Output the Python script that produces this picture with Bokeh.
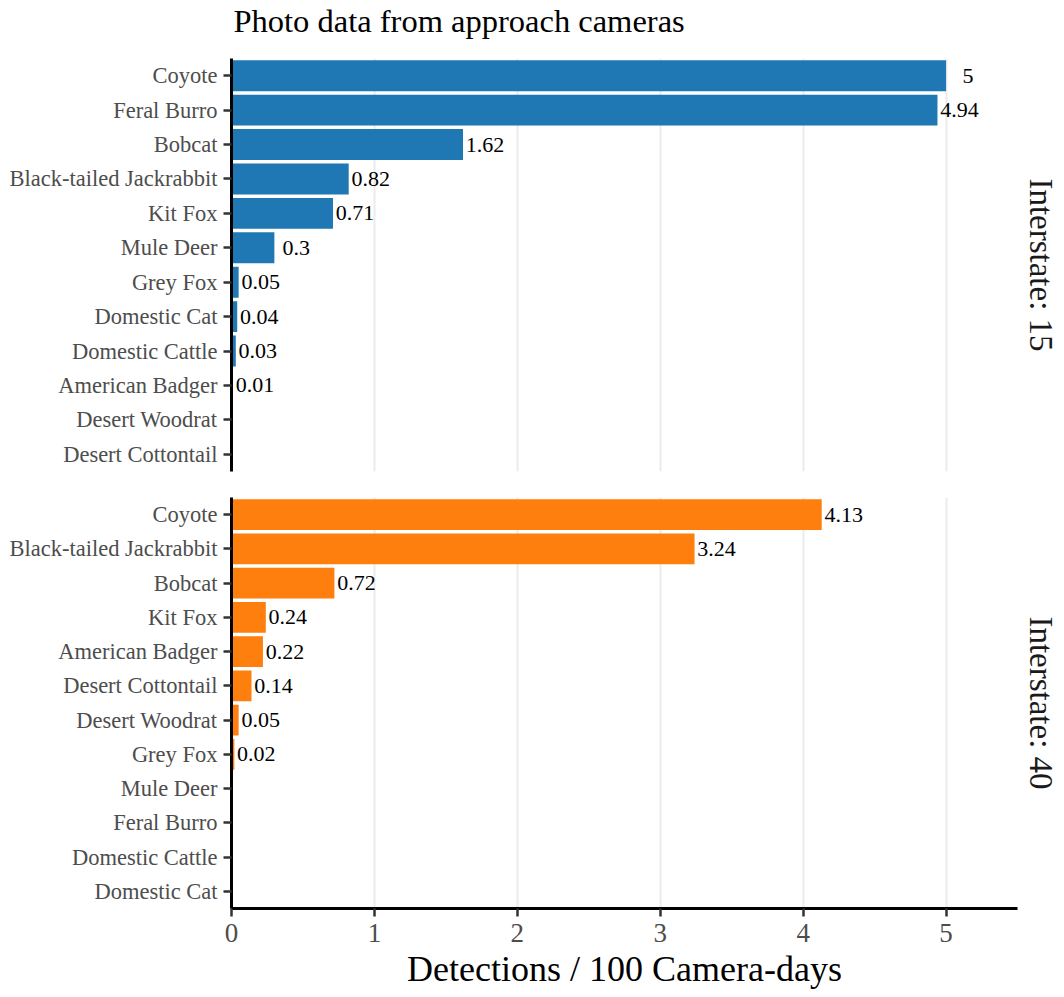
from bokeh.plotting import figure
from bokeh.layouts import column
from bokeh.models import Range1d, FactorRange, Title, ColumnDataSource, FixedTicker
from bokeh.core.properties import value
from bokeh.embed import file_html
from bokeh.resources import INLINE

# Detection rates (detections per 100 camera-days) by species and interstate
i15_species = ["Coyote", "Feral Burro", "Bobcat", "Black-tailed Jackrabbit", "Kit Fox",
               "Mule Deer", "Grey Fox", "Domestic Cat", "Domestic Cattle",
               "American Badger", "Desert Woodrat", "Desert Cottontail"]
i15_rate = [5, 4.94, 1.62, 0.82, 0.71, 0.3, 0.05, 0.04, 0.03, 0.01, 0, 0]

i40_species = ["Coyote", "Black-tailed Jackrabbit", "Bobcat", "Kit Fox", "American Badger",
               "Desert Cottontail", "Desert Woodrat", "Grey Fox", "Mule Deer",
               "Feral Burro", "Domestic Cattle", "Domestic Cat"]
i40_rate = [4.13, 3.24, 0.72, 0.24, 0.22, 0.14, 0.05, 0.02, 0, 0, 0, 0]

x_ticks = [0, 1, 2, 3, 4, 5]

chart_title = "Photo data from approach cameras"

FONT = "Liberation Serif"
x_range = Range1d(0, 5.5)

FRAME_W = 786
LEFT, RIGHT = 231, 47


def panel(species, rates, color, facet, frame_h, top_border, bottom_border, show_x):
    bars = ColumnDataSource(dict(species=species, rate=rates))
    nz = [i for i, r in enumerate(rates) if r > 0]
    labels = ColumnDataSource(dict(
        species=[species[i] for i in nz],
        rate=[rates[i] for i in nz],
        label=[f"{rates[i]:g}" for i in nz],
    ))
    p = figure(
        y_range=FactorRange(factors=list(reversed(species))),
        x_range=x_range,
        frame_width=FRAME_W, frame_height=frame_h,
        min_border_left=LEFT, min_border_right=RIGHT,
        min_border_top=top_border, min_border_bottom=bottom_border,
        output_backend="svg", toolbar_location=None,
    )
    p.hbar(y="species", left=0, right="rate", height=0.9, fill_color=color,
           line_color=None, source=bars)
    p.text(x="rate", y="species", text="label", source=labels,
           x_offset=22, text_align="center", text_baseline="middle",
           text_font=value(FONT), text_font_size="22px", text_color="black")

    p.outline_line_color = None
    p.background_fill_color = "white"
    p.border_fill_color = "white"

    p.ygrid.visible = False
    p.xgrid.ticker = FixedTicker(ticks=x_ticks)
    p.xgrid.grid_line_color = "#EBEBEB"
    p.xgrid.grid_line_width = 2

    ya = p.yaxis[0]
    ya.axis_line_color = "black"
    ya.axis_line_width = 3
    ya.major_tick_line_color = "#333333"
    ya.major_tick_line_width = 2.5
    ya.major_tick_out = 8
    ya.major_tick_in = 0
    ya.major_label_standoff = 6
    ya.major_label_text_font = FONT
    ya.major_label_text_font_size = "22.5px"
    ya.major_label_text_color = "#4D4D4D"

    xa = p.xaxis[0]
    xa.ticker = FixedTicker(ticks=x_ticks)
    if show_x:
        xa.axis_line_color = "black"
        xa.axis_line_width = 3
        xa.major_tick_line_color = "#333333"
        xa.major_tick_line_width = 2.5
        xa.major_tick_out = 8
        xa.major_tick_in = 0
        xa.minor_tick_line_color = None
        xa.major_label_standoff = 7
        xa.major_label_text_font = FONT
        xa.major_label_text_font_size = "27px"
        xa.major_label_text_color = "#4D4D4D"
        xa.axis_label = "Detections / 100 Camera-days"
        xa.axis_label_text_font = FONT
        xa.axis_label_text_font_size = "36px"
        xa.axis_label_text_font_style = "normal"
        xa.axis_label_text_color = "black"
        xa.axis_label_standoff = 4
    else:
        xa.visible = False

    p.add_layout(Title(text=facet, align="center", text_font=FONT,
                       text_font_size="33px", text_font_style="normal",
                       text_color="#1A1A1A"), "right")
    return p


# Title strip sharing the panels' horizontal scale; y runs in pixels (0 = bottom)
HEAD_H = 58
head = figure(x_range=x_range, y_range=Range1d(0, HEAD_H),
              frame_width=FRAME_W, frame_height=HEAD_H,
              min_border_left=LEFT, min_border_right=RIGHT,
              min_border_top=0, min_border_bottom=0,
              output_backend="svg", toolbar_location=None)
head.axis.visible = False
head.grid.visible = False
head.outline_line_color = None
head.border_fill_color = "white"
head.text(x=[0], y=[HEAD_H - 20], text=[chart_title], x_offset=2,
          text_font=value(FONT), text_font_size="32.5px", text_color="black",
          text_baseline="alphabetic", text_align="left")

top = panel(i15_species, i15_rate, "#1F77B4", "Interstate: 15", 413, 0, 13, False)
bottom = panel(i40_species, i40_rate, "#FF7F0E", "Interstate: 40", 411, 13, 89, True)

layout = column(head, top, bottom, spacing=0)

open("out.html", "w").write(file_html(layout, INLINE))
